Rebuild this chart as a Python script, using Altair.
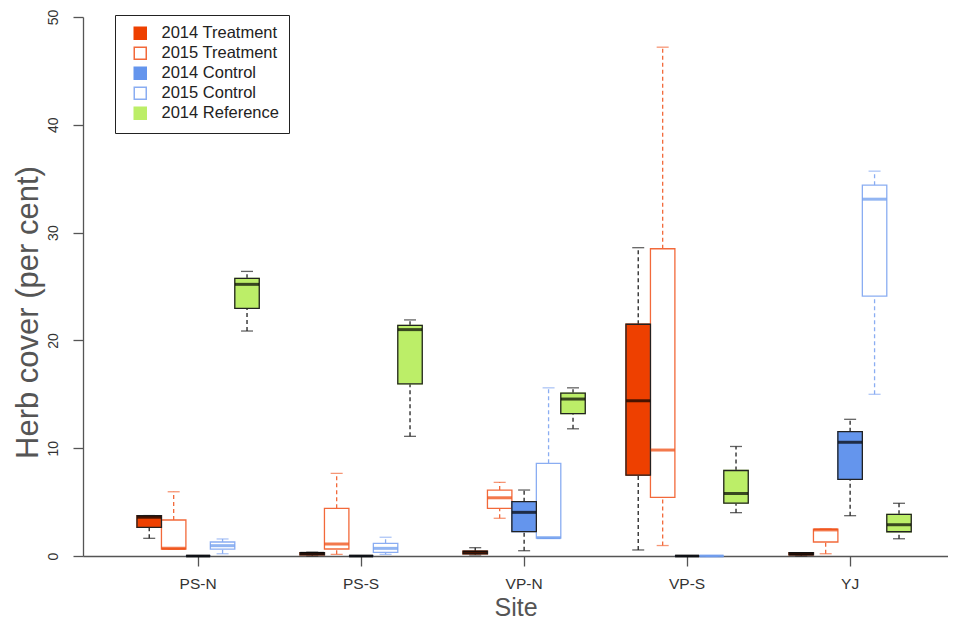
import altair as alt
import pandas as pd

sites = ["PS-N", "PS-S", "VP-N", "VP-S", "YJ"]
series = ["2014 Treatment", "2015 Treatment", "2014 Control", "2015 Control", "2014 Reference"]

# five-number summaries per site: (min, Q1, median, Q3, max), herb cover (%)
treat_2014 = [(1.64, 2.66, 3.6, 3.75, 3.75), (0.0, 0.1, 0.25, 0.3, 0.35),
              (0.1, 0.2, 0.35, 0.45, 0.77), (0.56, 7.5, 14.4, 21.5, 28.6),
              (0.0, 0.1, 0.2, 0.3, 0.3)]
treat_2015 = [(0.65, 0.65, 0.72, 3.34, 5.96), (0.16, 0.65, 1.11, 4.42, 7.67),
              (3.5, 4.42, 5.4, 6.12, 6.83), (0.97, 5.43, 9.83, 28.5, 47.2),
              (0.21, 1.3, 2.42, 2.5, 2.5)]
ctrl_2014 = [(0, 0, 0, 0, 0), (0, 0, 0, 0, 0),
             (0.49, 2.26, 4.05, 5.04, 6.12), (0, 0, 0, 0, 0),
             (3.74, 7.11, 10.55, 11.53, 12.68)]
ctrl_2015 = [(0.21, 0.63, 0.96, 1.3, 1.58), (0.15, 0.34, 0.71, 1.18, 1.74),
             (1.65, 1.65, 1.7, 8.6, 15.6), (0, 0, 0, 0, 0),
             (15.0, 24.1, 33.1, 34.4, 35.7)]
ref_2014 = [(20.87, 22.98, 25.2, 25.76, 26.4), (11.1, 15.97, 21.0, 21.4, 21.9),
            (11.8, 13.2, 14.56, 15.1, 15.6), (4.02, 4.9, 5.8, 7.93, 10.16),
            (1.6, 2.25, 2.9, 3.87, 4.89)]

summaries = [treat_2014, treat_2015, ctrl_2014, ctrl_2015, ref_2014]
rows = []
for name, summ in zip(series, summaries):
    for site, (mn, q1, md, q3, mx) in zip(sites, summ):
        rows.append({"site": site, "series": name, "min": mn, "q1": q1,
                     "median": md, "q3": q3, "max": mx})
df = pd.DataFrame(rows)

FONT = "Liberation Sans"
fill_range = ["#EE4000", "#FFFFFF", "#6495ED", "#FFFFFF", "#BCEE68"]
stroke_range = ["#EE4000", "#F2693A", "#6495ED", "#8AADF2", "#BCEE68"]
whisker_range = ["#222222", "#F2693A", "#222222", "#8AADF2", "#222222"]
median_range = ["#000000", "#EE4000", "#000000", "#6495ED", "#000000"]
years_2014 = [s for s in series if s.startswith("2014")]

x_enc = alt.X("site:N", sort=sites,
              scale=alt.Scale(domain=sites, paddingInner=0.25, paddingOuter=0.2784, align=0.595),
              axis=alt.Axis(title="Site", labelAngle=0, labelFontSize=15.5, labelFont=FONT,
                            labelColor="#333333", labelPadding=10, tickSize=10,
                            titleFontSize=25, titleFont=FONT, titleFontWeight="normal",
                            titleColor="#555555", titleY=64, titleBaseline="bottom"))
xo_enc = alt.XOffset("series:N", sort=series,
                     scale=alt.Scale(domain=series, paddingInner=0, paddingOuter=0))
y_scale = alt.Scale(domain=[0, 50], nice=False, zero=True)
y_axis = alt.Axis(title="Herb cover (per cent)", values=[0, 10, 20, 30, 40, 50], grid=False,
                  labelAngle=270, labelAlign="center", labelBaseline="alphabetic",
                  labelFontSize=14, labelFont=FONT, labelColor="#333333", labelPadding=16,
                  tickSize=10, titleFontSize=31, titleFont=FONT, titleFontWeight="normal",
                  titleColor="#555555", titleX=-46, titleY=295, titleBaseline="alphabetic",
                  titleAngle=270)

def col(range_):
    return alt.Color("series:N", sort=series, scale=alt.Scale(domain=series, range=range_), legend=None)

base = alt.Chart(df)

leg = alt.Legend(title=None, orient="none", legendX=32, legendY=-2, symbolType="square",
                 symbolSize=144, symbolStrokeWidth=1.5, labelFontSize=16.5, labelFont=FONT,
                 labelColor="#222222", rowPadding=1, padding=10, strokeColor="#222222",
                 fillColor="#FFFFFF", symbolOffset=7, labelOffset=13)

upper = base.mark_rule(strokeDash=[4, 3], strokeWidth=1.3).encode(
    x=x_enc, xOffset=xo_enc, y=alt.Y("q3:Q", scale=y_scale, axis=y_axis), y2="max:Q",
    color=col(whisker_range))
lower = base.mark_rule(strokeDash=[4, 3], strokeWidth=1.3).encode(
    x=x_enc, xOffset=xo_enc, y=alt.Y("min:Q", scale=y_scale, axis=y_axis), y2="q1:Q",
    color=col(whisker_range))
cap_hi = base.mark_tick(size=12, thickness=1.3).encode(
    x=x_enc, xOffset=xo_enc, y=alt.Y("max:Q", scale=y_scale, axis=y_axis),
    color=col(whisker_range))
cap_lo = base.mark_tick(size=12, thickness=1.3).encode(
    x=x_enc, xOffset=xo_enc, y=alt.Y("min:Q", scale=y_scale, axis=y_axis),
    color=col(whisker_range))
boxes = base.mark_bar(strokeWidth=1.3).encode(
    x=x_enc, xOffset=xo_enc, y=alt.Y("q1:Q", scale=y_scale, axis=y_axis), y2="q3:Q",
    fill=alt.Fill("series:N", sort=series, scale=alt.Scale(domain=series, range=fill_range), legend=leg),
    stroke=alt.Stroke("series:N", sort=series, scale=alt.Scale(domain=series, range=stroke_range), legend=leg))
borders = base.mark_bar(strokeWidth=1.3, fillOpacity=0, stroke="#222222").encode(
    x=x_enc, xOffset=xo_enc, y=alt.Y("q1:Q", scale=y_scale, axis=y_axis), y2="q3:Q"
).transform_filter(alt.FieldOneOfPredicate(field="series", oneOf=years_2014))
medians = base.mark_tick(size=24, thickness=3).encode(
    x=x_enc, xOffset=xo_enc, y=alt.Y("median:Q", scale=y_scale, axis=y_axis),
    color=col(median_range))

chart = alt.layer(upper, lower, cap_hi, cap_lo, boxes, borders, medians).resolve_scale(
    color="independent"
).properties(
    width=865, height=539,
    autosize=alt.AutoSizeParams(type="none"),
    padding={"left": 75, "top": 9, "right": 0, "bottom": 66},
).configure_view(stroke=None).configure_axis(
    domainColor="#555555", tickColor="#555555", domainWidth=1.3, tickWidth=1.3
).configure_legend(strokeWidth=1)

chart.save("out.html", embed_options={"renderer": "svg", "actions": False})
